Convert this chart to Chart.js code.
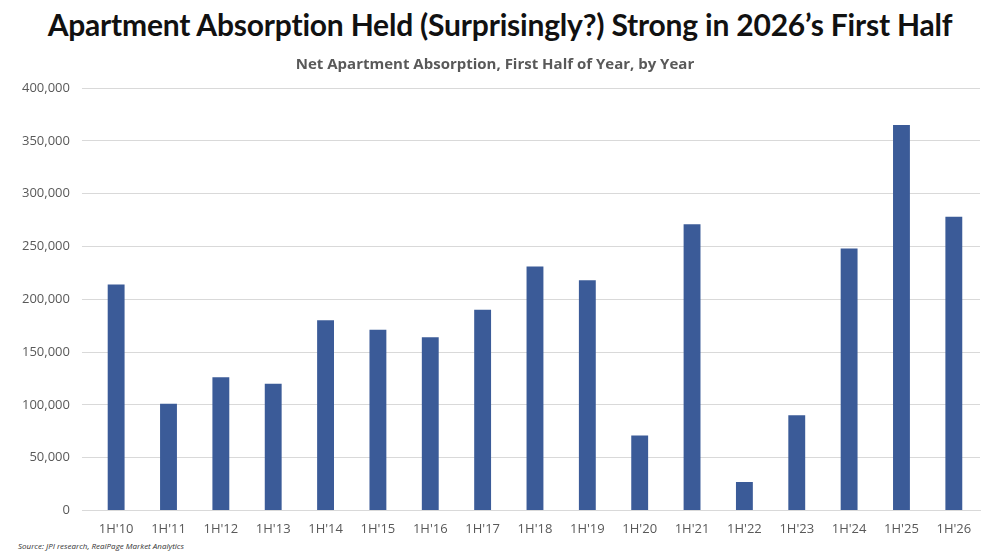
<!DOCTYPE html>
<html><head><meta charset="utf-8">
<script src="https://cdn.jsdelivr.net/npm/chart.js@4"></script>
<style>
html,body{margin:0;padding:0;background:#fff;}
#wrap{position:relative;width:1000px;height:558px;}
h1{position:absolute;left:0;top:6px;width:1000px;margin:0;text-align:center;font:bold 30px Lato,"Open Sans",sans-serif;color:#111;letter-spacing:-0.2px;}
#src{position:absolute;left:18px;top:540px;font:italic 8px "Open Sans",sans-serif;color:#333;}
#cw{position:absolute;left:0;top:50px;width:1000px;height:490px;}
</style></head>
<body><div id="wrap">
<h1>Apartment Absorption Held (Surprisingly?) Strong in 2026’s First Half</h1>
<div id="cw"><canvas id="c"></canvas></div>
<div id="src">Source: JPI research, RealPage Market Analytics</div>
</div>
<script>
const categories=["1H'10","1H'11","1H'12","1H'13","1H'14","1H'15","1H'16","1H'17","1H'18","1H'19","1H'20","1H'21","1H'22","1H'23","1H'24","1H'25","1H'26"];
const absorption=[214000,101000,126000,120000,180000,171000,164000,190000,231000,218000,71000,271000,27000,90000,248000,365000,278000];
new Chart(document.getElementById('c'),{
 type:'bar',
 data:{labels:categories,datasets:[{data:absorption,backgroundColor:'#3b5b98',barPercentage:0.62,categoryPercentage:0.52}]},
 options:{responsive:true,maintainAspectRatio:false,animation:false,
  layout:{padding:{left:10,right:20,top:0,bottom:0}},
  plugins:{legend:{display:false},tooltip:{enabled:false},
   title:{display:true,text:'Net Apartment Absorption, First Half of Year, by Year',color:'#595959',font:{family:'"Open Sans",sans-serif',size:15},padding:{top:6,bottom:14}}},
  scales:{
   x:{grid:{display:false},border:{color:'#d9d9d9'},ticks:{color:'#595959',font:{family:'"Open Sans",sans-serif',size:13}}},
   y:{min:0,max:400000,ticks:{stepSize:50000,color:'#595959',padding:12,font:{family:'"Open Sans",sans-serif',size:13},callback:v=>v.toLocaleString('en-US')},
      grid:{color:'#d9d9d9'},border:{display:false}}
  }}
});
</script></body></html>
